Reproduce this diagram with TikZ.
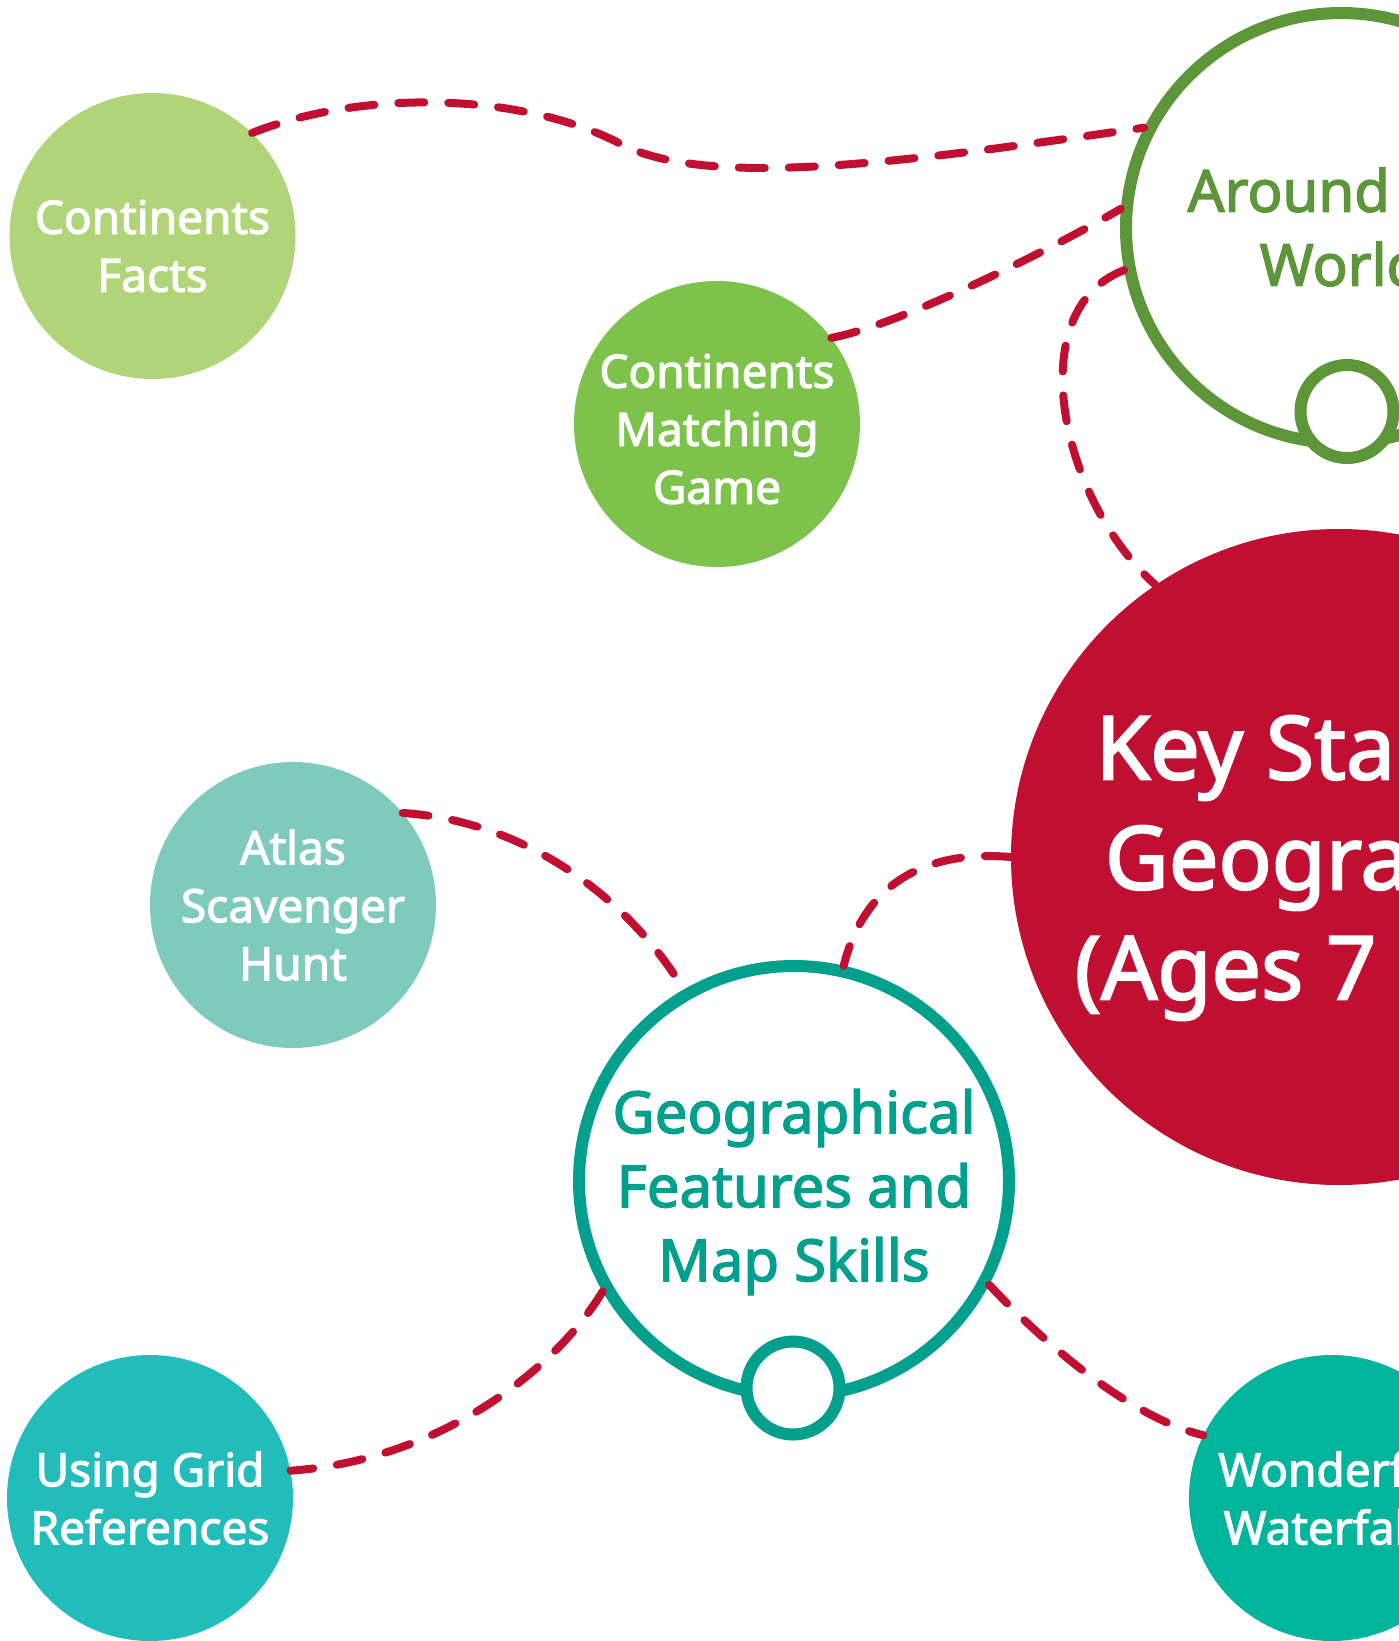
\documentclass[tikz,border=0pt]{standalone}
\usepackage{fontspec}
\setmainfont{Noto Sans}[BoldFont={Noto Sans}, BoldFeatures={FakeBold=2.4}]
\definecolor{cRed}{HTML}{C10F32}
\definecolor{cFacts}{HTML}{B0D478}
\definecolor{cMatch}{HTML}{7DC24B}
\definecolor{cWorld}{HTML}{5D9639}
\definecolor{cAtlas}{HTML}{7ECBBC}
\definecolor{cGrid}{HTML}{22BDBA}
\definecolor{cWater}{HTML}{00B59C}
\definecolor{cGeo}{HTML}{00A08C}
\begin{document}
\begin{tikzpicture}[x=1pt,y=1pt,
  leaf/.style={circle, minimum size=286pt, inner sep=0pt, text=white, align=center,
    font=\fontsize{46}{58}\selectfont\bfseries},
  leaftext/.style={inner sep=0pt, text=white, align=center,
    font=\fontsize{46}{58}\selectfont\bfseries},
  hub/.style={circle, minimum size=430pt, inner sep=0pt, line width=12pt, fill=white},
  hubtext/.style={inner sep=0pt, align=center, font=\fontsize{58}{74}\selectfont\bfseries},
  knob/.style={circle, minimum size=93pt, inner sep=0pt, line width=12pt, fill=white},
  rootnode/.style={circle, minimum size=656pt, inner sep=0pt, fill=cRed},
  roottext/.style={inner sep=0pt, text=white, align=center,
    font=\fontsize{88}{110}\selectfont\bfseries},
  conn/.style={draw=cRed, line width=8pt, line cap=round, dash pattern=on 26pt off 24pt}]
\useasboundingbox (0,0) rectangle (1399,-1641);
\clip (0,0) rectangle (1399,-1641);
\fill[white] (0,0) rectangle (1399,-1641);

\node[leaf, fill=cFacts] (cf) at (152.5,-236) {};
\node[leaftext] (cftext) at (152.5,-246) {Continents\\Facts};
\node[leaf, fill=cMatch] (cmg) at (717,-424) {};
\node[leaftext] (cmgtext) at (717,-429) {Continents\\Matching\\Game};
\node[hub, draw=cWorld] (aw) at (1341,-228) {};
\node[hubtext, text=cWorld] (awtext) at (1341,-227) {Around the\\World};
\node[knob, draw=cWorld] (awk) at (1347,-411.5) {};
\node[rootnode] (ks) at (1339,-857) {};
\node[roottext] (kstext) at (1334,-868) {Key Stage 2\\Geography\\(Ages 7 -- 11)};
\node[leaf, fill=cAtlas] (atlas) at (293,-905) {Atlas\\Scavenger\\Hunt};
\node[hub, draw=cGeo] (geo) at (794,-1181) {};
\node[hubtext, text=cGeo] (geotext) at (794,-1192) {Geographical\\Features and\\Map Skills};
\node[knob, draw=cGeo] (geok) at (793,-1388) {};
\node[leaf, fill=cGrid] (grid) at (150,-1498) {Using Grid\\References};
\node[leaf, fill=cWater] (wf) at (1332,-1498) {Wonderful\\Waterfalls};

\coordinate (m1) at (615,-141);
\draw[conn] (cf.46) .. controls (360,-90) and (515,-92) .. (m1)
  .. controls (700,-190) and (894,-164) .. (aw.153);
\draw[conn] (cmg.37) .. controls (900,-325) and (1050,-250) .. (aw.175);
\draw[conn] (aw.191) .. controls (1020,-310) and (1060,-500) .. (ks.124);
\draw[conn] (ks.180) .. controls (930,-850) and (865,-880) .. (geo.77);
\draw[conn] (atlas.40) .. controls (540,-822) and (640,-915) .. (geo.120);
\draw[conn] (geo.210) .. controls (555,-1370) and (440,-1460) .. (grid.11);
\draw[conn] (geo.332) .. controls (1060,-1360) and (1140,-1420) .. (wf.154);
\end{tikzpicture}
\end{document}
